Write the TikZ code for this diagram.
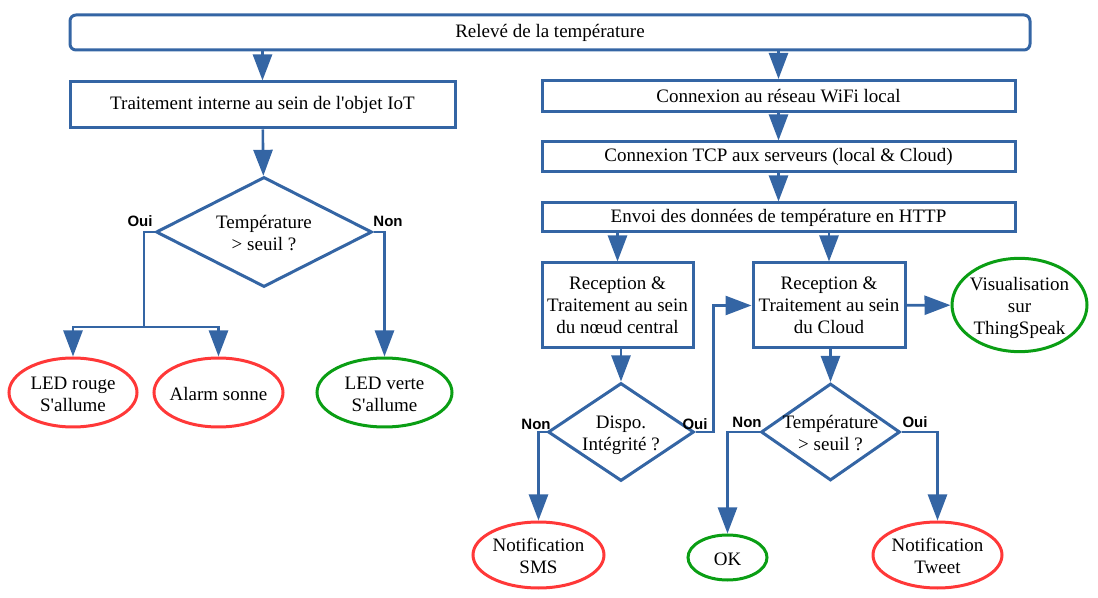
\documentclass[tikz,border=0pt]{standalone}
\usepackage{fontspec}
\setmainfont{Liberation Serif}
\newfontfamily\ansfont{Liberation Sans}
\usetikzlibrary{positioning, arrows.meta, shapes.geometric}
\definecolor{flowblue}{HTML}{3465A4}
\definecolor{alertred}{HTML}{FF3838}
\definecolor{okgreen}{HTML}{0A9E14}
\newcommand{\ctr}[1]{\makebox[0pt]{\raisebox{-1.7pt}[\height][\depth]{\begin{tabular}{@{}c@{}}#1\end{tabular}}}}
\newcommand{\q}{\textquotesingle}

\begin{document}
\begin{tikzpicture}[
		x=0.5pt, y=-0.5pt,
		font=\fontsize{9.5}{11}\selectfont,
		arr/.style={draw=flowblue, line width=1.3pt, -{Triangle[length=13pt, width=9.5pt]}},
		link/.style={draw=flowblue, line width=1.3pt},
		proc/.style={draw=flowblue, line width=1.5pt, rectangle, inner sep=0pt, align=center},
		test/.style={draw=flowblue, line width=1.5pt, diamond, inner sep=0pt, aspect=2},
		okend/.style={draw=okgreen, line width=1.5pt, ellipse, inner sep=0pt},
		koend/.style={draw=alertred, line width=1.5pt, ellipse, inner sep=0pt},
		rep/.style={font=\ansfont\bfseries\fontsize{7.5}{9}\selectfont, inner sep=0pt},
	]
	\useasboundingbox (0,0) rectangle (1098,598);

	\node[proc, rounded corners=3pt, minimum width=480pt, minimum height=17.5pt] (releve) at (550, 32.5) {Relevé de la température};

	% objet IoT
	\node[proc, minimum width=192.5pt, minimum height=23pt] (trt) at (262.5, 105) {Traitement interne au sein de l\q objet IoT};
	\node[test, minimum width=108pt, minimum height=55pt] (d1) at (264, 232) {\ctr{Température\\> seuil ?}};
	\node[koend, minimum width=64pt, minimum height=34.5pt] (ledr) at (73, 392.5) {\ctr{LED rouge\\S\q allume}};
	\node[koend, minimum width=64.5pt, minimum height=34.5pt] (alarm) at (218.5, 392.5) {\ctr{Alarm sonne}};
	\node[okend, minimum width=67.5pt, minimum height=34.5pt] (ledv) at (384.5, 392.5) {\ctr{LED verte\\S\q allume}};
	\coordinate (fork) at (144, 327);

	% reseau
	\node[proc, minimum width=236.5pt, minimum height=15.5pt] (wifi) at (778.5, 96) {Connexion au réseau WiFi local};
	\node[proc, minimum width=236.5pt, minimum height=15pt] (tcp) at (778.5, 157) {Connexion TCP aux serveurs (local \& Cloud)};
	\node[proc, minimum width=236.5pt, minimum height=14.5pt] (envoi) at (778.5, 217.5) {Envoi des données de température en HTTP};
	\node[proc, minimum width=75.5pt, minimum height=42.5pt] (central) at (617.5, 305.5) {Reception \&\\Traitement au sein\\du nœud central};
	\node[proc, minimum width=76pt, minimum height=42.5pt] (cloud) at (829, 305.5) {Reception \&\\Traitement au sein\\du Cloud};
	\node[okend, minimum width=67.5pt, minimum height=43pt] (visu) at (1019.5, 305) {\ctr{Visualisation\\sur\\ThingSpeak}};
	\node[test, minimum width=73pt, minimum height=49pt] (d2) at (621, 432) {\ctr{Dispo.\\Intégrité ?}};
	\node[test, minimum width=69.5pt, minimum height=48.5pt] (d3) at (830.5, 432) {\ctr{Température\\> seuil ?}};
	\node[koend, minimum width=65.5pt, minimum height=33pt] (sms) at (538.5, 555) {\ctr{Notification\\SMS}};
	\node[okend, minimum width=39.5pt, minimum height=22.5pt] (ok) at (727.5, 557.5) {\ctr{OK}};
	\node[koend, minimum width=64.5pt, minimum height=33pt] (tweet) at (937.5, 555) {\ctr{Notification\\Tweet}};

	% reponses
	\node[rep] (oui1) at (140, 221) {Oui};
	\node[rep] (non1) at (388, 221) {Non};
	\node[rep] (non2) at (536, 424) {Non};
	\node[rep] (oui2) at (695, 424) {Oui};
	\node[rep] (non3) at (747, 422) {Non};
	\node[rep] (oui3) at (915, 422) {Oui};

	\foreach \i/\j in {trt/d1, wifi/tcp, tcp/envoi, cloud/visu}
		\draw[arr] (\i) -- (\j);

	\draw[arr] (trt.north |- releve.south) -- (trt.north);
	\draw[arr] (wifi.north |- releve.south) -- (wifi.north);
	\draw[arr] (central.north |- envoi.south) -- (central.north);
	\draw[arr] (cloud.north |- envoi.south) -- (cloud.north);
	\draw[arr] (d2.north |- central.south) -- (d2.north);
	\draw[arr] (d3.north |- cloud.south) -- (d3.north);

	\draw[link] (d1.west) -| (fork);
	\draw[arr] (fork) -| (ledr.north);
	\draw[arr] (fork) -| (alarm.north);
	\draw[arr] (d1.east) -| (ledv.north);

	\draw[arr] (d2.west) -| (sms.north);
	\draw[arr] (d2.east) -- ++(18, 0) |- (cloud.west);
	\draw[arr] (d3.west) -| (ok.north);
	\draw[arr] (d3.east) -| (tweet.north);
\end{tikzpicture}
\end{document}
